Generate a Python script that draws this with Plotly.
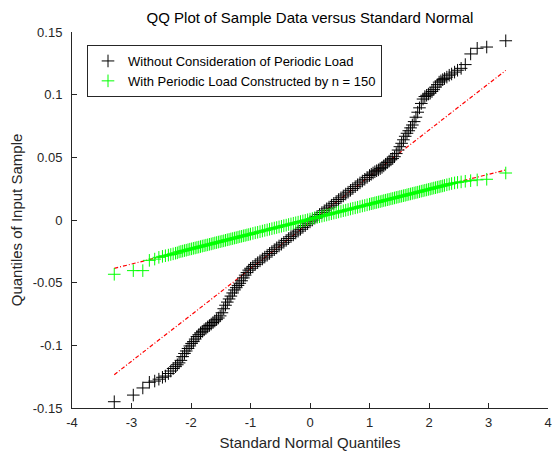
import plotly.graph_objects as go

# Standard normal quantiles (x positions shared by both samples)
std_normal_quantiles = [
    -3.29, -2.97, -2.81, -2.70, -2.61, -2.54, -2.48, -2.43, -2.38, -2.34, -2.30, -2.26, -2.23,
    -2.20, -2.17, -2.14, -2.11, -2.08, -2.05, -2.02, -1.99, -1.96, -1.93, -1.90, -1.87, -1.84,
    -1.81, -1.78, -1.75, -1.72, -1.69, -1.66, -1.63, -1.60, -1.57, -1.54, -1.51, -1.48, -1.45,
    -1.42, -1.39, -1.36, -1.33, -1.30, -1.27, -1.24, -1.21, -1.18, -1.15, -1.12, -1.09, -1.06,
    -1.03, -1.00,
    -0.96, -0.92, -0.88, -0.84, -0.80, -0.76, -0.72, -0.68, -0.64, -0.60, -0.56, -0.52, -0.48,
    -0.44, -0.40, -0.36, -0.32, -0.28, -0.24, -0.20, -0.16, -0.12, -0.08, -0.04, 0.00, 0.04,
    0.08, 0.12, 0.16, 0.20, 0.24, 0.28, 0.32, 0.36, 0.40, 0.44, 0.48, 0.52, 0.56, 0.60, 0.64,
    0.68, 0.72, 0.76, 0.80, 0.84, 0.88, 0.92, 0.96,
    1.00, 1.03, 1.06, 1.09, 1.12, 1.15, 1.18, 1.21, 1.24, 1.27, 1.30, 1.33, 1.36, 1.39, 1.42,
    1.45, 1.48, 1.51, 1.54, 1.57, 1.60, 1.63, 1.66, 1.69, 1.72, 1.75, 1.78, 1.81, 1.84, 1.87,
    1.90, 1.93, 1.96, 1.99, 2.02, 2.05, 2.08, 2.11, 2.14, 2.17, 2.20,
    2.23, 2.26, 2.30, 2.34, 2.38, 2.43, 2.48, 2.54, 2.61, 2.70, 2.81, 2.97, 3.29,
]

# Sample quantiles: without consideration of periodic load
y_without = [
    -0.1450, -0.1397, -0.1340, -0.1295, -0.1285, -0.1270, -0.1255, -0.1245, -0.1225, -0.1205,
    -0.1185, -0.1170, -0.1155,
    -0.1140, -0.1120, -0.1090, -0.1065, -0.1045, -0.1025, -0.1005, -0.0985, -0.0970, -0.0950,
    -0.0930, -0.0915, -0.0900, -0.0888, -0.0876, -0.0865, -0.0853, -0.0842, -0.0830, -0.0818,
    -0.0806, -0.0795, -0.0782, -0.0765, -0.0740, -0.0708, -0.0680, -0.0655, -0.0630, -0.0607,
    -0.0582, -0.0558, -0.0540, -0.0522, -0.0505, -0.0485, -0.0462, -0.0440, -0.0420, -0.0400,
    -0.0385,
    -0.0370, -0.0355, -0.0341, -0.0326, -0.0311, -0.0296, -0.0281, -0.0267, -0.0252, -0.0237,
    -0.0222, -0.0207, -0.0193, -0.0178, -0.0163, -0.0148, -0.0133, -0.0119, -0.0104, -0.0089,
    -0.0074, -0.0059, -0.0045, -0.0030, -0.0015, 0.0000, 0.0015, 0.0029, 0.0044, 0.0059,
    0.0074, 0.0089, 0.0103, 0.0118, 0.0133, 0.0148, 0.0163, 0.0177, 0.0192, 0.0207, 0.0222,
    0.0237, 0.0251, 0.0266, 0.0281, 0.0296, 0.0311, 0.0325, 0.0340,
    0.0355, 0.0365, 0.0375, 0.0385, 0.0393, 0.0400, 0.0410, 0.0420, 0.0432, 0.0445, 0.0458,
    0.0470, 0.0480, 0.0490, 0.0505, 0.0530, 0.0558, 0.0585, 0.0612, 0.0640, 0.0668, 0.0692,
    0.0712, 0.0735, 0.0758, 0.0785, 0.0820, 0.0860, 0.0895, 0.0930, 0.0965, 0.0985, 0.0995,
    0.1005, 0.1012, 0.1025, 0.1040, 0.1060, 0.1080, 0.1100, 0.1110,
    0.1120, 0.1128, 0.1140, 0.1155, 0.1165, 0.1180, 0.1195, 0.1210, 0.1240, 0.1325, 0.1370,
    0.1380, 0.1430,
]

# Sample quantiles: with periodic load constructed by n = 150
y_with = [
    -0.0433, -0.0404, -0.0404, -0.0322, -0.0312, -0.0298, -0.0290, -0.0285, -0.0280, -0.0275,
    -0.0270, -0.0265, -0.0262,
    -0.0255, -0.0251, -0.0248, -0.0244, -0.0241, -0.0237, -0.0233, -0.0230, -0.0226, -0.0223,
    -0.0219, -0.0216, -0.0212, -0.0208, -0.0205, -0.0201, -0.0198, -0.0194, -0.0191, -0.0187,
    -0.0183, -0.0180, -0.0176, -0.0173, -0.0169, -0.0166, -0.0162, -0.0158, -0.0155, -0.0151,
    -0.0148, -0.0144, -0.0141, -0.0137, -0.0133, -0.0130, -0.0126, -0.0123, -0.0119, -0.0116,
    -0.0112,
    -0.0107, -0.0102, -0.0098, -0.0093, -0.0088, -0.0083, -0.0079, -0.0074, -0.0069, -0.0064,
    -0.0060, -0.0055, -0.0050, -0.0045, -0.0041, -0.0036, -0.0031, -0.0026, -0.0022, -0.0017,
    -0.0012, -0.0007, -0.0003, 0.0002, 0.0007, 0.0012, 0.0017, 0.0021, 0.0026, 0.0031,
    0.0036, 0.0040, 0.0045, 0.0050, 0.0055, 0.0059, 0.0064, 0.0069, 0.0074, 0.0078, 0.0083,
    0.0088, 0.0093, 0.0097, 0.0102, 0.0107, 0.0112, 0.0116, 0.0121,
    0.0126, 0.0130, 0.0133, 0.0137, 0.0140, 0.0144, 0.0147, 0.0151, 0.0155, 0.0158, 0.0162,
    0.0165, 0.0169, 0.0172, 0.0176, 0.0180, 0.0183, 0.0187, 0.0190, 0.0194, 0.0197, 0.0201,
    0.0205, 0.0208, 0.0212, 0.0215, 0.0219, 0.0222, 0.0226, 0.0230, 0.0233, 0.0237, 0.0240,
    0.0244, 0.0247, 0.0251, 0.0255, 0.0258, 0.0262, 0.0265, 0.0269,
    0.0272, 0.0276, 0.0281, 0.0286, 0.0291, 0.0296, 0.0300, 0.0304, 0.0309, 0.0314, 0.0320,
    0.0325, 0.0375,
]

# Reference (quartile) lines, extended to the data extremes
ref_line_x = [-3.29, 3.29]
ref_without_y = [-0.1234, 0.1194]
ref_with_y = [-0.0386, 0.0399]

x_ticks = [-4, -3, -2, -1, 0, 1, 2, 3, 4]
y_ticks = [-0.15, -0.1, -0.05, 0, 0.05, 0.1, 0.15]
y_tick_labels = ["-0.15", "-0.1", "-0.05", "0", "0.05", "0.1", "0.15"]

series_names = [
    "Without Consideration of Periodic Load",
    "With Periodic Load Constructed by n = 150",
]

FONT = "Liberation Sans, Arial, Helvetica, sans-serif"
AX = "#262626"

fig = go.Figure()

# reference lines (drawn under markers)
for ys in (ref_without_y, ref_with_y):
    fig.add_trace(go.Scatter(
        x=ref_line_x, y=ys, mode="lines",
        line=dict(color="#ff0000", width=1.2, dash="4px,2px,1px,2px"),
        showlegend=False, hoverinfo="skip",
    ))

for name, ys, col in ((series_names[0], y_without, "#000000"),
                      (series_names[1], y_with, "#00ff00")):
    fig.add_trace(go.Scatter(
        x=std_normal_quantiles, y=ys, mode="markers", name=name,
        marker=dict(symbol="cross-thin", size=9, color=col,
                    line=dict(color=col, width=1)),
    ))

fig.update_layout(
    width=555, height=452,
    margin=dict(l=72, r=7, t=32, b=44, autoexpand=False),
    paper_bgcolor="white", plot_bgcolor="white",
    font=dict(family=FONT, size=13, color=AX),
    title=dict(text="QQ Plot of Sample Data versus Standard Normal",
               x=310 / 555, xanchor="center", y=1 - 18 / 452, yanchor="middle",
               automargin=False,
               font=dict(family=FONT, size=15, color="#000000")),
    showlegend=True,
    legend=dict(x=(87 - 72) / 476, y=(408 - 45) / 376, xanchor="left", yanchor="top",
                bgcolor="white", bordercolor=AX, borderwidth=1,
                font=dict(family=FONT, size=13, color="#000000"),
                tracegroupgap=0, itemsizing="trace"),
    xaxis=dict(range=[-4, 4], tickvals=x_ticks, ticktext=[str(v) for v in x_ticks],
               showgrid=False, zeroline=False, showline=True, linecolor=AX, linewidth=1,
               ticks="inside", ticklen=5, tickcolor=AX, mirror=False, automargin=False,
               tickfont=dict(size=13, color=AX), ticklabelstandoff=2,
               title=dict(text="Standard Normal Quantiles", standoff=8,
                          font=dict(size=15, color=AX))),
    yaxis=dict(range=[-0.15, 0.15], tickvals=y_ticks, ticktext=y_tick_labels,
               showgrid=False, zeroline=False, showline=True, linecolor=AX, linewidth=1,
               ticks="inside", ticklen=5, tickcolor=AX, mirror=False, automargin=False,
               tickfont=dict(size=13, color=AX), ticklabelstandoff=6,
               title=dict(text="Quantiles of Input Sample", standoff=6,
                          font=dict(size=15, color=AX))),
)

fig.write_html("out.html", config={"displayModeBar": False},
               post_script="document.body.style.margin='0';document.body.style.padding='0';")
